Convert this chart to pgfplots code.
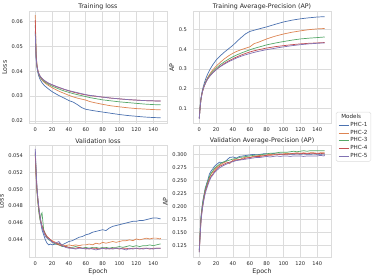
\documentclass[border=0pt]{standalone}
\usepackage{pgfplots}
\usepackage{pgfplotstable}
\pgfplotsset{compat=1.18}
\usepackage{fontspec}
\setmainfont{DejaVu Sans}
\definecolor{cB}{HTML}{4C72B0}
\definecolor{cO}{HTML}{DD8452}
\definecolor{cG}{HTML}{55A868}
\definecolor{cR}{HTML}{C44E52}
\definecolor{cP}{HTML}{8172B3}
\definecolor{gridc}{HTML}{DCDCDC}
\definecolor{txt}{HTML}{262626}

\pgfplotstableread{
e b o g r p
0 0.0560 0.0625 0.0585 0.0605 0.0550
1 0.0450 0.0470 0.0460 0.0465 0.0455
2 0.0415 0.0425 0.0420 0.0423 0.0420
3 0.0395 0.0403 0.0402 0.0405 0.0403
4 0.0382 0.0390 0.0390 0.0393 0.0392
5 0.0373 0.0381 0.0382 0.0385 0.0385
6 0.0365 0.0374 0.0376 0.0379 0.0379
8 0.0354 0.0364 0.0367 0.0371 0.0371
10 0.0345 0.0357 0.0360 0.0364 0.0365
13 0.0336 0.0349 0.0353 0.0357 0.0358
16 0.0328 0.0342 0.0347 0.0351 0.0352
20 0.0318 0.0334 0.0340 0.0345 0.0346
25 0.0308 0.0325 0.0333 0.0338 0.0339
30 0.0299 0.0317 0.0326 0.0332 0.0333
35 0.0291 0.0310 0.0320 0.0326 0.0327
40 0.0282 0.0303 0.0315 0.0321 0.0322
45 0.0276 0.0297 0.0310 0.0316 0.0318
50 0.0266 0.0292 0.0306 0.0312 0.0314
55 0.0254 0.0288 0.0302 0.0308 0.0310
60 0.0247 0.0284 0.0298 0.0305 0.0306
65 0.0244 0.0278 0.0294 0.0302 0.0303
70 0.0241 0.0274 0.0291 0.0300 0.0301
80 0.0236 0.0267 0.0285 0.0296 0.0296
90 0.0231 0.0261 0.0281 0.0292 0.0292
100 0.0226 0.0257 0.0277 0.0289 0.0289
110 0.0222 0.0253 0.0274 0.0286 0.0286
120 0.0219 0.0250 0.0271 0.0284 0.0284
130 0.0216 0.0248 0.0268 0.0282 0.0282
140 0.0214 0.0246 0.0266 0.0281 0.0281
149 0.0213 0.0245 0.0265 0.0280 0.0280
}\trainloss

\pgfplotstableread{
e b o g r p
0 0.050 0.055 0.052 0.050 0.048
1 0.110 0.105 0.108 0.105 0.105
2 0.152 0.145 0.148 0.146 0.145
3 0.178 0.170 0.172 0.170 0.170
4 0.198 0.190 0.190 0.188 0.188
5 0.214 0.205 0.205 0.203 0.203
6 0.229 0.218 0.217 0.215 0.215
8 0.254 0.240 0.237 0.234 0.234
10 0.275 0.257 0.253 0.250 0.249
13 0.300 0.278 0.272 0.267 0.266
16 0.321 0.295 0.287 0.281 0.280
20 0.345 0.314 0.304 0.297 0.296
25 0.367 0.334 0.322 0.314 0.312
30 0.386 0.352 0.337 0.329 0.325
35 0.403 0.367 0.350 0.341 0.337
40 0.420 0.380 0.362 0.352 0.347
45 0.441 0.390 0.372 0.362 0.357
50 0.460 0.398 0.381 0.371 0.365
55 0.478 0.405 0.389 0.379 0.372
60 0.490 0.412 0.397 0.386 0.378
65 0.496 0.428 0.404 0.392 0.384
70 0.502 0.435 0.410 0.397 0.389
80 0.513 0.452 0.422 0.406 0.398
90 0.526 0.466 0.431 0.413 0.405
100 0.538 0.477 0.439 0.418 0.412
110 0.547 0.486 0.446 0.423 0.418
120 0.554 0.493 0.452 0.427 0.423
130 0.559 0.499 0.456 0.430 0.427
140 0.563 0.503 0.459 0.432 0.430
149 0.565 0.505 0.462 0.434 0.432
}\trainap

\pgfplotstableread{
e b o g r p
0 0.0545 0.0540 0.0542 0.0543 0.0548
1 0.0520 0.0515 0.0518 0.0517 0.0522
2 0.0500 0.0497 0.0498 0.0500 0.0503
3 0.0488 0.0485 0.0487 0.0490 0.0490
4 0.0478 0.0476 0.0475 0.0480 0.0481
5 0.0470 0.0468 0.0468 0.0472 0.0473
6 0.0462 0.0463 0.0463 0.0466 0.0466
7 0.0457 0.0460 0.0470 0.0461 0.0460
8 0.0452 0.0455 0.0472 0.0457 0.0455
10 0.0446 0.0450 0.0452 0.0451 0.0449
12 0.0440 0.0446 0.0447 0.0447 0.0444
14 0.0436 0.0443 0.0443 0.0444 0.0442
16 0.0434 0.0442 0.0440 0.0442 0.0441
18 0.0435 0.0440 0.0439 0.0440 0.0439
20 0.0434 0.0439 0.0437 0.0438 0.0437
24 0.0435 0.0437 0.0435 0.0436 0.0436
28 0.0436 0.0435 0.0434 0.0434 0.0438
32 0.0434 0.0434 0.0432 0.0433 0.0433
36 0.0436 0.0433 0.0432 0.0432 0.0431
40 0.0438 0.0434 0.0431 0.0431 0.0430
44 0.0439 0.0433 0.0431 0.0430 0.0430
48 0.0441 0.0434 0.0432 0.0430 0.0429
52 0.0443 0.0433 0.0431 0.0431 0.0430
56 0.0444 0.0434 0.0430 0.0430 0.0430
60 0.0446 0.0434 0.0431 0.0430 0.0429
64 0.0447 0.0435 0.0430 0.0429 0.0430
68 0.0449 0.0434 0.0431 0.0430 0.0429
72 0.0450 0.0436 0.0431 0.0430 0.0428
76 0.0451 0.0435 0.0430 0.0429 0.0429
80 0.0452 0.0437 0.0431 0.0430 0.0430
84 0.0451 0.0436 0.0431 0.0430 0.0429
88 0.0454 0.0437 0.0430 0.0429 0.0430
92 0.0456 0.0438 0.0431 0.0430 0.0429
96 0.0457 0.0437 0.0431 0.0430 0.0430
100 0.0458 0.0438 0.0432 0.0429 0.0430
104 0.0459 0.0439 0.0431 0.0430 0.0429
108 0.0460 0.0439 0.0432 0.0430 0.0428
112 0.0461 0.0440 0.0433 0.0429 0.0430
116 0.0462 0.0439 0.0432 0.0430 0.0429
120 0.0462 0.0441 0.0433 0.0430 0.0430
124 0.0463 0.0440 0.0432 0.0429 0.0430
128 0.0463 0.0441 0.0433 0.0430 0.0429
132 0.0464 0.0442 0.0433 0.0430 0.0430
136 0.0465 0.0441 0.0434 0.0429 0.0430
140 0.0466 0.0442 0.0433 0.0430 0.0429
144 0.0466 0.0442 0.0434 0.0430 0.0430
148 0.0465 0.0441 0.0435 0.0430 0.0430
149 0.0465 0.0442 0.0435 0.0430 0.0430
}\valloss

\pgfplotstableread{
e b o g r p
0 0.115 0.113 0.118 0.116 0.112
1 0.150 0.145 0.150 0.145 0.143
2 0.180 0.175 0.178 0.172 0.170
3 0.195 0.190 0.193 0.188 0.186
4 0.208 0.203 0.206 0.200 0.198
5 0.218 0.213 0.215 0.210 0.208
6 0.225 0.222 0.224 0.220 0.217
7 0.235 0.230 0.232 0.228 0.224
8 0.240 0.235 0.238 0.233 0.230
10 0.250 0.246 0.248 0.243 0.240
12 0.262 0.255 0.257 0.252 0.249
14 0.268 0.262 0.264 0.258 0.256
16 0.272 0.266 0.268 0.262 0.260
18 0.277 0.270 0.273 0.267 0.265
20 0.280 0.274 0.276 0.271 0.268
24 0.285 0.279 0.281 0.277 0.274
28 0.284 0.283 0.285 0.280 0.278
32 0.288 0.286 0.287 0.283 0.281
36 0.294 0.282 0.289 0.285 0.284
40 0.295 0.289 0.291 0.287 0.286
44 0.293 0.291 0.292 0.289 0.288
48 0.296 0.290 0.294 0.290 0.289
52 0.297 0.293 0.295 0.291 0.290
56 0.298 0.295 0.296 0.293 0.291
60 0.299 0.294 0.297 0.294 0.292
64 0.300 0.296 0.298 0.295 0.293
68 0.299 0.297 0.299 0.296 0.294
72 0.300 0.298 0.299 0.296 0.294
76 0.301 0.297 0.300 0.297 0.295
80 0.301 0.299 0.301 0.298 0.296
84 0.300 0.300 0.302 0.298 0.295
88 0.302 0.299 0.302 0.299 0.296
92 0.300 0.301 0.303 0.299 0.297
96 0.301 0.300 0.304 0.300 0.296
100 0.300 0.301 0.304 0.300 0.297
104 0.301 0.302 0.304 0.300 0.297
108 0.300 0.301 0.305 0.301 0.296
112 0.300 0.302 0.306 0.301 0.297
116 0.301 0.303 0.305 0.301 0.297
120 0.300 0.302 0.306 0.301 0.297
124 0.301 0.303 0.307 0.302 0.296
128 0.300 0.302 0.306 0.301 0.297
132 0.300 0.303 0.307 0.302 0.297
136 0.301 0.303 0.307 0.302 0.297
140 0.300 0.302 0.307 0.301 0.297
144 0.300 0.303 0.307 0.302 0.298
148 0.301 0.303 0.307 0.301 0.297
149 0.300 0.303 0.307 0.301 0.298
}\valap

\pgfplotsset{
  every axis title shift=0pt,
  sub/.style={
    scale only axis, width=138pt, height=112pt,
    xmin=-7.45, xmax=156.45, xtick={0,20,...,140},
    grid=major, major grid style={line width=0.7pt, color=gridc},
    axis line style={line width=0.7pt, color=gridc},
    major tick length=0pt, tick style={draw=none},
    ticklabel style={font=\fontsize{5.1}{6}\selectfont, color=txt},
    xticklabel style={yshift=-1pt},
    yticklabel style={xshift=-2.5pt},
    /pgf/number format/assume math mode=true,
    scaled y ticks=false,
    title style={font=\fontsize{6.3}{7}\selectfont, color=txt, inner sep=1.5pt},
    label style={font=\fontsize{6.3}{7}\selectfont, color=txt},
    ylabel style={inner sep=1.2pt},
    xlabel style={inner sep=1pt, yshift=1.5pt},
    every axis plot/.append style={line width=0.7pt},
    legend image code/.code={\draw[##1] (0pt,0pt) -- (10pt,0pt);},
  },
}

\begin{document}
\begin{tikzpicture}
\useasboundingbox (0,0) rectangle (374pt,276pt);
% Training loss
\begin{axis}[sub, at={(29pt,152.5pt)}, anchor=south west,
  title={Training loss}, ylabel={Loss},
  ymin=0.0190, ymax=0.0640, ytick={0.02,0.03,0.04,0.05,0.06},
  yticklabel style={/pgf/number format/.cd, fixed, fixed zerofill, precision=2}]
\addplot[cB] table[x=e,y=b]{\trainloss};
\addplot[cO] table[x=e,y=o]{\trainloss};
\addplot[cG] table[x=e,y=g]{\trainloss};
\addplot[cR] table[x=e,y=r]{\trainloss};
\addplot[cP] table[x=e,y=p]{\trainloss};
\end{axis}
% Training AP
\begin{axis}[sub, at={(193pt,152.5pt)}, anchor=south west,
  title={Training Average-Precision (AP)}, ylabel={AP},
  ymin=0.024, ymax=0.591, ytick={0.1,0.2,0.3,0.4,0.5},
  yticklabel style={/pgf/number format/.cd, fixed, fixed zerofill, precision=1},
  legend style={at={(1.035,0.103)}, anchor=north west, draw=gridc, line width=0.5pt,
    rounded corners=1.5pt, fill=white, text=txt,
    font=\fontsize{5.6}{6.5}\selectfont, row sep=0pt,
    nodes={inner sep=1pt}, inner xsep=2.5pt, inner ysep=1.5pt},
  legend cell align=left]
\addlegendimage{empty legend}
\addlegendentry{\hspace*{-9pt}Models}
\addplot[cB] table[x=e,y=b]{\trainap};
\addlegendentry{PHC-1}
\addplot[cO] table[x=e,y=o]{\trainap};
\addlegendentry{PHC-2}
\addplot[cG] table[x=e,y=g]{\trainap};
\addlegendentry{PHC-3}
\addplot[cR] table[x=e,y=r]{\trainap};
\addlegendentry{PHC-4}
\addplot[cP] table[x=e,y=p]{\trainap};
\addlegendentry{PHC-5}
\end{axis}
% Validation loss
\begin{axis}[sub, at={(29pt,18.5pt)}, anchor=south west,
  title={Validation loss}, ylabel={Loss}, xlabel={Epoch},
  ymin=0.0419, ymax=0.0552, ytick={0.044,0.046,0.048,0.050,0.052,0.054},
  yticklabel style={/pgf/number format/.cd, fixed, fixed zerofill, precision=3}]
\addplot[cB] table[x=e,y=b]{\valloss};
\addplot[cO] table[x=e,y=o]{\valloss};
\addplot[cG] table[x=e,y=g]{\valloss};
\addplot[cR] table[x=e,y=r]{\valloss};
\addplot[cP] table[x=e,y=p]{\valloss};
\end{axis}
% Validation AP
\begin{axis}[sub, at={(193pt,18.5pt)}, anchor=south west,
  title={Validation Average-Precision (AP)}, ylabel={AP}, xlabel={Epoch},
  ymin=0.102, ymax=0.317, ytick={0.125,0.150,0.175,0.200,0.225,0.250,0.275,0.300},
  yticklabel style={/pgf/number format/.cd, fixed, fixed zerofill, precision=3}]
\addplot[cB] table[x=e,y=b]{\valap};
\addplot[cO] table[x=e,y=o]{\valap};
\addplot[cG] table[x=e,y=g]{\valap};
\addplot[cR] table[x=e,y=r]{\valap};
\addplot[cP] table[x=e,y=p]{\valap};
\end{axis}
\end{tikzpicture}
\end{document}
